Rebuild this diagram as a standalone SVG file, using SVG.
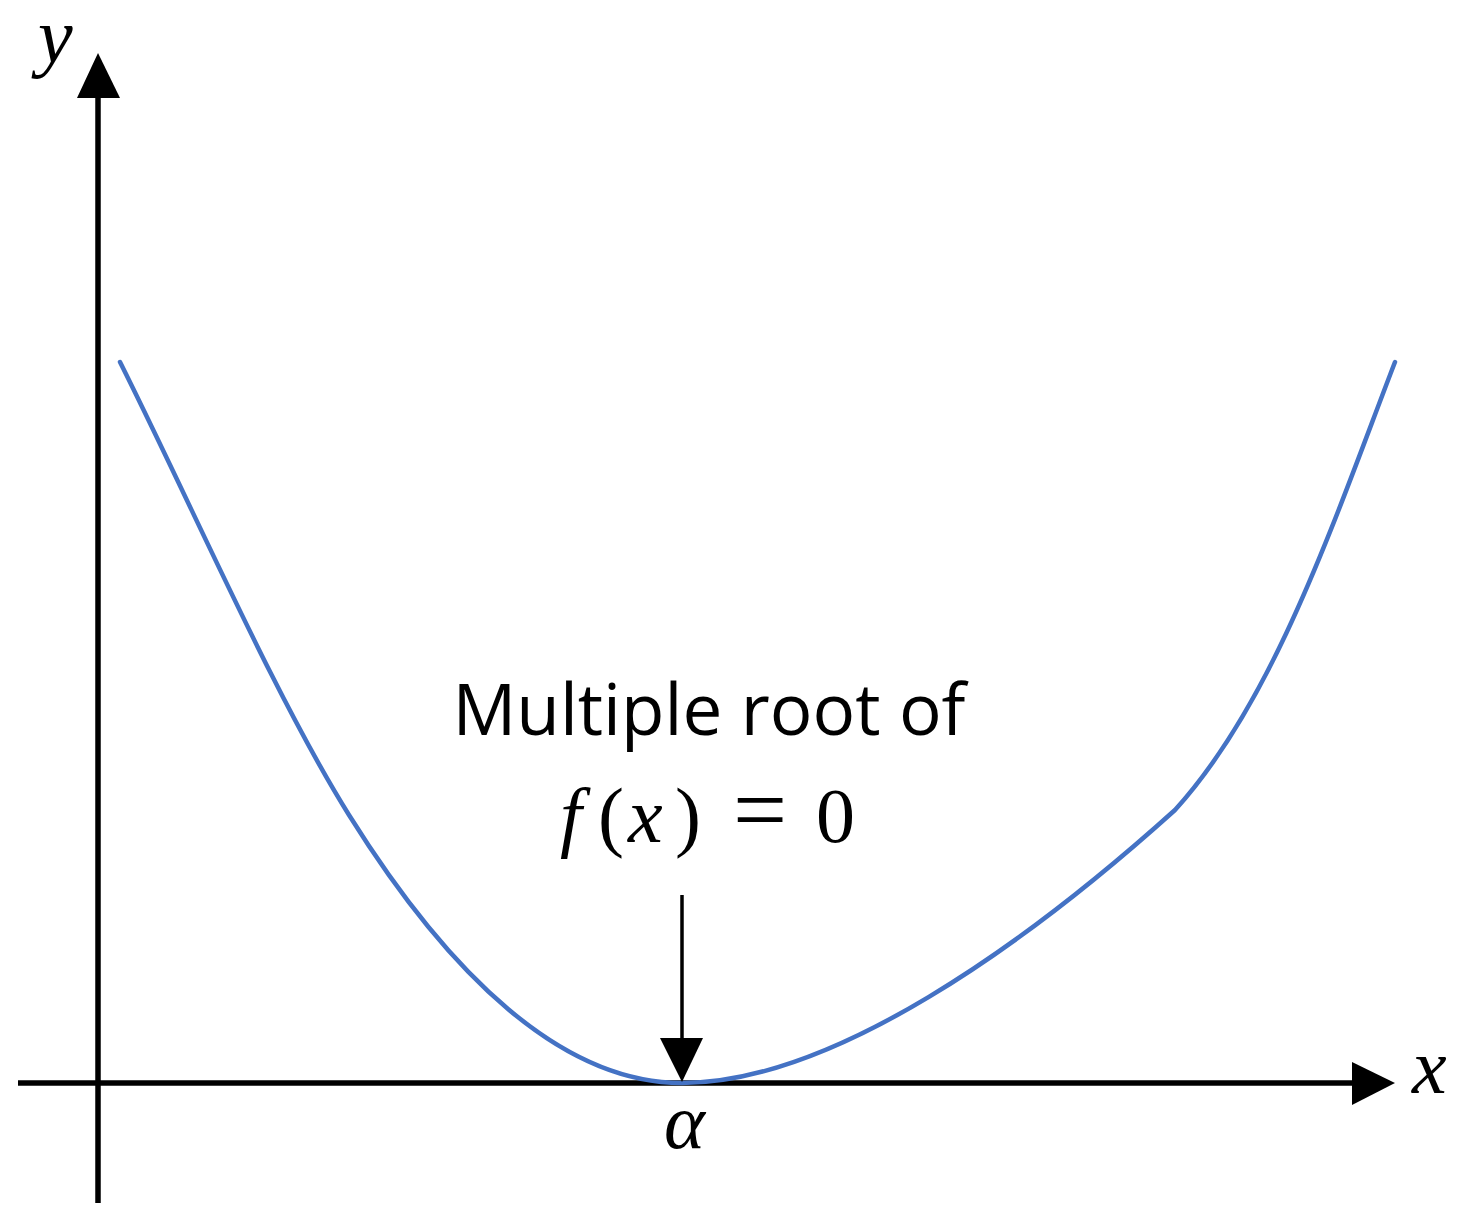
<svg xmlns="http://www.w3.org/2000/svg" width="1477" height="1219" viewBox="0 0 1477 1219">
  <style>
    .axis { stroke: #000; stroke-width: 5.5; fill: none; }
    .head { fill: #000; stroke: none; }
    .curve { stroke: #4472C4; stroke-width: 4.5; fill: none; stroke-linecap: round; }
    .pointer { stroke: #000; stroke-width: 3.5; fill: none; }
    .math { font-family: "Liberation Serif", "Times New Roman", serif; font-size: 78px; fill: #000; }
    .it { font-style: italic; }
    .label { font-family: "Open Sans", "Liberation Sans", sans-serif; font-size: 71px; fill: #000; }
  </style>
  <rect width="1477" height="1219" fill="#fff"/>
  <g id="axes">
    <line class="axis" x1="98" y1="1203" x2="98" y2="96"/>
    <polygon class="head" points="98,53 77,98 120,98"/>
    <line class="axis" x1="18" y1="1083" x2="1354" y2="1083"/>
    <polygon class="head" points="1395,1083 1352,1062 1352,1105"/>
    <text class="math it" x="38" y="62" font-size="80">y</text>
    <text class="math it" x="1412" y="1093">x</text>
  </g>
  <g id="curve">
    <path class="curve" d="M120,362 C196,514 273,693 349,815 C449,975 562,1083 682,1083 C832,1083 1025,945 1175,810 C1275,700 1335,518 1395,362"/>
  </g>
  <g id="annotation">
    <text class="label" x="709" y="735" text-anchor="middle">Multiple root of</text>
    <text class="math" y="842"><tspan class="it" x="560">f</tspan><tspan x="598">(</tspan><tspan class="it" x="628">x</tspan><tspan x="675">)</tspan><tspan x="733" font-size="96">=</tspan><tspan x="816">0</tspan></text>
  </g>
  <g id="connectors">
    <line class="pointer" x1="682" y1="895" x2="682" y2="1040"/>
    <polygon class="head" points="660,1038 703,1038 682,1082"/>
  </g>
  <g id="root-label">
    <text class="math it" x="664" y="1148">α</text>
  </g>
</svg>
